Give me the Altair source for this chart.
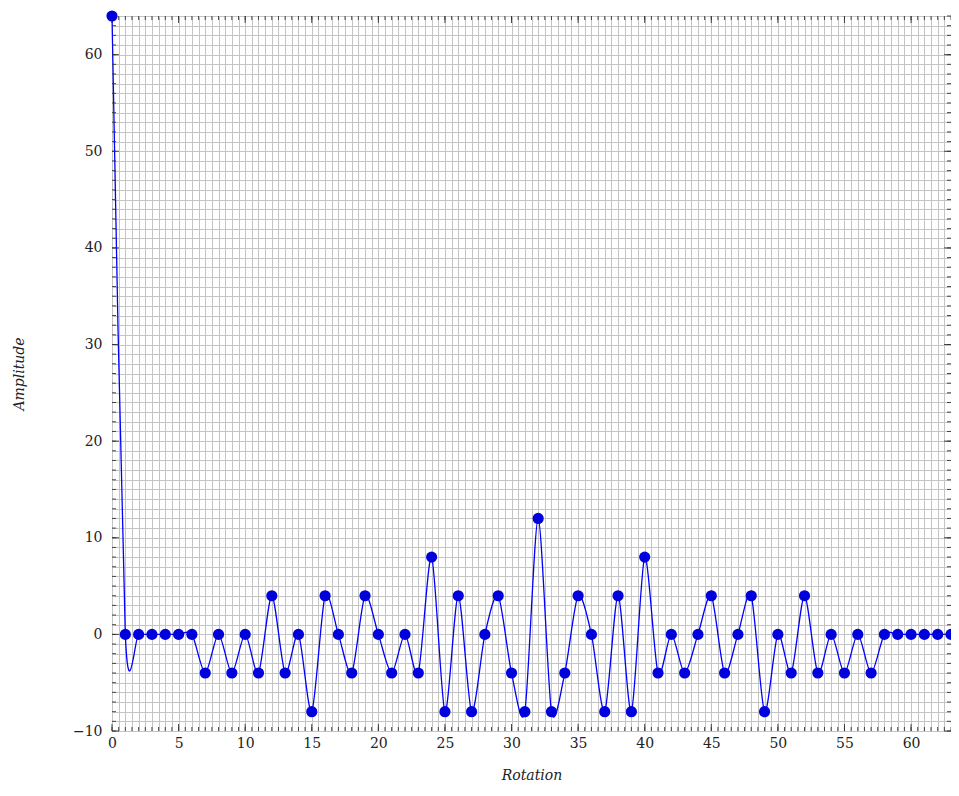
import altair as alt
import numpy as np
import pandas as pd

# ---- data ----
rotation = list(range(64))
amplitude = [64, 0, 0, 0, 0, 0, 0,
             -4, 0, -4, 0, -4, 4, -4, 0, -8, 4,
             0, -4, 4, 0, -4, 0, -4, 8, -8, 4,
             -8, 0, 4, -4, -8, 12, -8, -4, 4, 0,
             -8, 4, -8, 8, -4, 0, -4, 0, 4, -4,
             0, 4, -8, 0, -4, 4, -4, 0, -4, 0,
             -4, 0, 0, 0, 0, 0, 0]
x_grid = [i * 0.5 for i in range(0, 127)]   # 0 .. 63 step 0.5
x_major = [0, 5, 10, 15, 20, 25, 30, 35, 40, 45, 50, 55, 60]
y_grid = list(range(-10, 65))               # -10 .. 64 step 1
y_major = [-10, 0, 10, 20, 30, 40, 50, 60]

W, H = 839, 715
FONT = "DejaVu Serif"

df = pd.DataFrame({"x": rotation, "y": amplitude})
xt = pd.DataFrame({"x": x_grid})
xtm = pd.DataFrame({"x": x_major})
yt = pd.DataFrame({"y": y_grid})
ytm = pd.DataFrame({"y": y_major})

xscale = alt.Scale(domain=[0, 63], nice=False, zero=False)
yscale = alt.Scale(domain=[-10, 64], nice=False, zero=False)

xaxis = alt.Axis(values=x_grid, grid=True, ticks=False, domain=False,
                 format="~g",
                 labelExpr="datum.value % 5 === 0 ? datum.label : ''",
                 labelOverlap=False,
                 labelFlush=False, labelPadding=5, labelFont=FONT,
                 labelFontSize=14, labelColor="#222",
                 title="Rotation", titleFont=FONT, titleFontStyle="italic",
                 titleFontWeight="normal", titleFontSize=14, titleColor="#222",
                 titlePadding=18, gridColor="#c4c4c4", gridWidth=1)
yaxis = alt.Axis(values=y_grid, grid=True, ticks=False, domain=False,
                 format="~g",
                 labelExpr="datum.value % 10 === 0 ? datum.label : ''",
                 labelOverlap=False,
                 labelFlush=False, labelPadding=10, labelFont=FONT,
                 labelFontSize=14, labelColor="#222",
                 title="Amplitude", titleFont=FONT, titleFontStyle="italic",
                 titleFontWeight="normal", titleFontSize=14, titleColor="#222",
                 titlePadding=46, gridColor="#c4c4c4", gridWidth=1)

X = alt.X("x:Q", scale=xscale, axis=xaxis)
Y = alt.Y("y:Q", scale=yscale, axis=yaxis)

line = alt.Chart(df).mark_line(color="#0000ff", strokeWidth=1.3,
                               interpolate="cardinal", tension=0.2).encode(
    x=X, y=Y)
pts = alt.Chart(df).mark_circle(color="#0000dd", opacity=1, size=125).encode(
    x=X, y=Y)

tick_style = dict(color="#333", strokeWidth=0.9)
bx = alt.Chart(xt).mark_rule(**tick_style).encode(
    x=X, y=alt.value(H), y2=alt.value(H - 4))
bxm = alt.Chart(xtm).mark_rule(**tick_style).encode(
    x=X, y=alt.value(H), y2=alt.value(H - 7))
tx = alt.Chart(xt).mark_rule(**tick_style).encode(
    x=X, y=alt.value(0), y2=alt.value(4))
txm = alt.Chart(xtm).mark_rule(**tick_style).encode(
    x=X, y=alt.value(0), y2=alt.value(7))
ly = alt.Chart(yt).mark_rule(**tick_style).encode(
    y=Y, x=alt.value(0), x2=alt.value(4))
lym = alt.Chart(ytm).mark_rule(**tick_style).encode(
    y=Y, x=alt.value(0), x2=alt.value(7))
ry = alt.Chart(yt).mark_rule(**tick_style).encode(
    y=Y, x=alt.value(W), x2=alt.value(W - 4))
rym = alt.Chart(ytm).mark_rule(**tick_style).encode(
    y=Y, x=alt.value(W), x2=alt.value(W - 7))

chart = alt.layer(line, bx, bxm, tx, txm, ly, lym, ry, rym, pts).properties(
    width=W, height=H,
    autosize=alt.AutoSizeParams(type="none"),
    padding={"left": 104, "top": 8, "right": 0, "bottom": 56},
).configure_view(stroke="#111", strokeWidth=1.3).configure(background="white")

chart.save("out.html", embed_options={"renderer": "svg", "actions": False})
